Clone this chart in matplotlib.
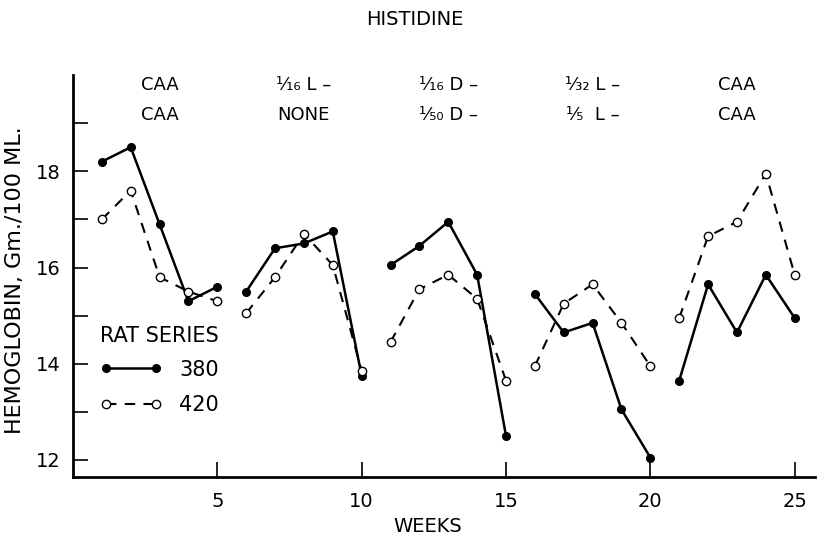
import matplotlib
matplotlib.use('Agg')
import matplotlib.pyplot as plt
import numpy as np

# weeks 1-25, five treatment periods of five weeks each
weeks = np.arange(1, 26)
rat_380 = [18.2, 18.5, 16.9, 15.3, 15.6,
           15.5, 16.4, 16.5, 16.75, 13.75,
           16.05, 16.45, 16.95, 15.85, 12.5,
           15.45, 14.65, 14.85, 13.05, 12.05,
           13.65, 15.65, 14.65, 15.85, 14.95]
rat_420 = [17.0, 17.6, 15.8, 15.5, 15.3,
           15.05, 15.8, 16.7, 16.05, 13.85,
           14.45, 15.55, 15.85, 15.35, 13.65,
           13.95, 15.25, 15.65, 14.85, 13.95,
           14.95, 16.65, 16.95, 17.95, 15.85]
diet_top = ['CAA', '¹⁄₁₆ L –', '¹⁄₁₆ D –', '¹⁄₃₂ L –', 'CAA']
diet_bottom = ['CAA', 'NONE', '¹⁄₅₀ D –', '¹⁄₅  L –', 'CAA']
block = 5

plt.rcParams['font.family'] = ['DejaVu Sans']
fig = plt.figure(figsize=(8.29, 5.40), dpi=100)
ax = fig.add_axes([0.088, 0.117, 0.895, 0.744])

for i in range(len(diet_top)):
    s = slice(i * block, (i + 1) * block)
    l1, = ax.plot(weeks[s], rat_380[s], color='black', lw=1.8, marker='o',
                  ms=5.5, mfc='black', mec='black')
    l2, = ax.plot(weeks[s], rat_420[s], color='black', lw=1.5, ls=(0, (5, 4)),
                  marker='o', ms=6, mfc='white', mec='black', mew=1.0)

for i in range(len(diet_top)):
    xc = weeks[i * block + 2]
    ax.text(xc, 0.975, diet_top[i], transform=ax.get_xaxis_transform(),
            ha='center', va='center', fontsize=13)
    ax.text(xc, 0.90, diet_bottom[i], transform=ax.get_xaxis_transform(),
            ha='center', va='center', fontsize=13)

ax.set_xlim(0, 25.7)
ax.set_ylim(11.65, 20)
ax.set_xticks([5, 10, 15, 20, 25])
ax.set_yticks([12, 14, 16, 18])
ax.set_yticks([13, 15, 17, 19], minor=True)
ax.tick_params(axis='both', direction='in', length=11, width=1.2,
               labelsize=14, pad=9)
ax.tick_params(axis='y', which='minor', direction='in', length=11, width=1.2)
ax.tick_params(axis='x', pad=11)
for side in ['top', 'right']:
    ax.spines[side].set_visible(False)
for side in ['left', 'bottom']:
    ax.spines[side].set_linewidth(2)

ax.set_xlabel('WEEKS', fontsize=14)
ax.xaxis.set_label_coords(0.478, -0.1)
ax.set_ylabel('HEMOGLOBIN, Gm./100 ML.', fontsize=16)
ax.yaxis.set_label_coords(-0.065, 0.49)
fig.text(0.5, 0.963, 'HISTIDINE', ha='center', va='center', fontsize=14)

leg = ax.legend([l1, l2], ['380', '420'], title='RAT SERIES', loc='lower left',
                bbox_to_anchor=(0.017, 0.117), frameon=False, numpoints=2,
                handlelength=3.0, fontsize=15, title_fontsize=15,
                labelspacing=0.75, handletextpad=0.8, borderpad=0.2)
leg._legend_box.align = 'left'
leg._legend_box.sep = 10

fig.savefig('out.png', dpi=100)
